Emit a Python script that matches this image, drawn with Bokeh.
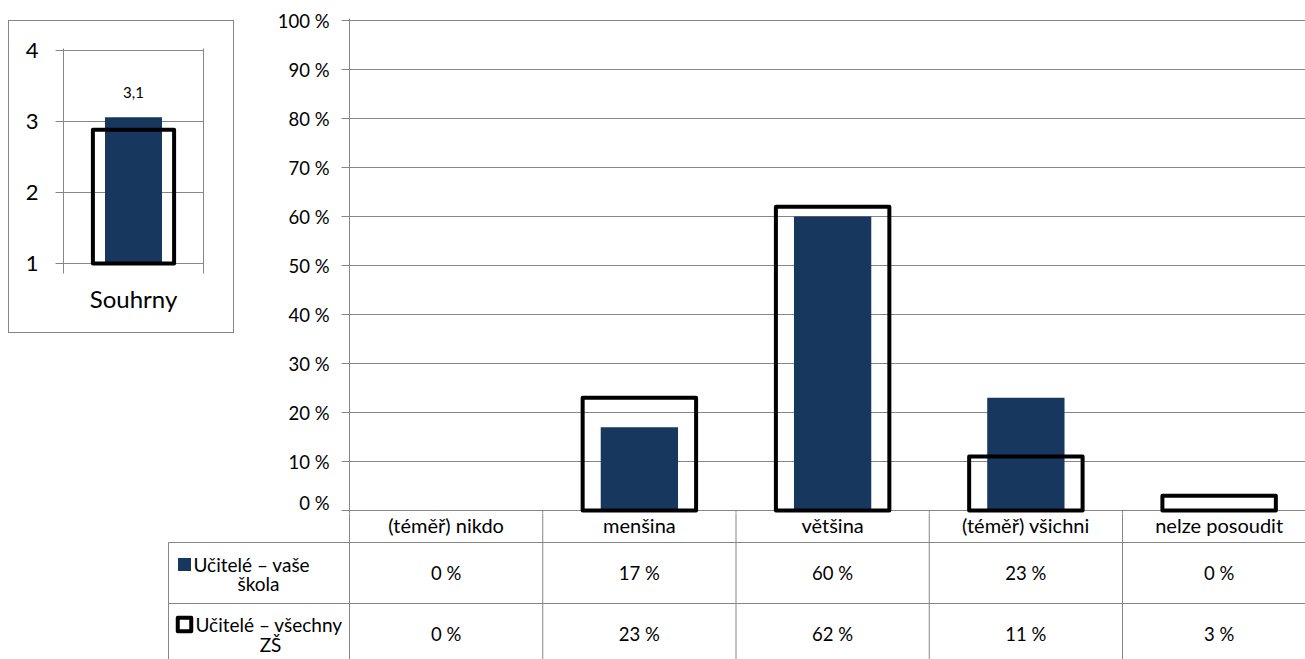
import numpy as np
from bokeh.plotting import figure
from bokeh.models import Range1d, FixedTicker, LinearAxis, Spacer, ColumnDataSource
from bokeh.layouts import row, column
from bokeh.core.properties import value
from bokeh.embed import file_html
from bokeh.resources import INLINE

# ---------------- data ----------------
categories = ["(téměř) nikdo", "menšina", "většina", "(téměř) všichni", "nelze posoudit"]
school_values = [0, 17, 60, 23, 0]          # Učitelé – vaše škola (%)
all_values = [0, 23, 62, 11, 3]             # Učitelé – všechny ZŠ (%)
series_names = ["Učitelé – vaše škola", "Učitelé – všechny ZŠ"]
y_ticks = [0, 10, 20, 30, 40, 50, 60, 70, 80, 90, 100]
y_tick_labels = ["0 %", "10 %", "20 %", "30 %", "40 %", "50 %", "60 %", "70 %", "80 %", "90 %", "100 %"]

summary_category = ["Souhrny"]
summary_school = [3.06]
summary_all = [2.885]
summary_ticks = [1, 2, 3, 4]

# ---------------- style ----------------
NAVY = "#17375E"
GRID = "#868686"
FONT = "Lato"
CW = 193.25          # px per category
PX = 4.9             # px per percent
PAGE_W, PAGE_H = 1305, 659
MARGIN = 8

# ---------------- main chart ----------------
main_w, main_h = 1035, 505
ml, mt = 79, 10
frame_w = main_w - ml
x_end = frame_w / CW
y_start = -3 / PX
y_end = 100 + 2 / PX

p = figure(width=main_w, height=main_h, x_range=Range1d(0, x_end), y_range=Range1d(y_start, y_end),
           output_backend="svg", toolbar_location=None, x_axis_location=None,
           min_border_left=ml, min_border_right=0, min_border_top=mt, min_border_bottom=0)
p.outline_line_color = None
ax = p.yaxis[0]
ax.ticker = FixedTicker(ticks=y_ticks)
ax.major_label_overrides = {t: lab for t, lab in zip(y_ticks, y_tick_labels)}
ax.axis_line_color = GRID
ax.major_tick_line_color = GRID
ax.major_tick_out = 8
ax.major_tick_in = 0
ax.minor_tick_line_color = None
ax.major_label_standoff = 12
ax.major_label_text_font = FONT
ax.major_label_text_font_size = "18.5px"
ax.major_label_text_color = "black"
p.ygrid.ticker = FixedTicker(ticks=y_ticks)
p.ygrid.grid_line_color = GRID
p.xgrid.grid_line_color = None

xc = np.arange(len(categories)) + 0.5
src = ColumnDataSource(dict(x=xc, school=school_values, all=all_values,
                            la=[0 if v == 0 else 1 for v in all_values]))
p.vbar(x="x", top="school", bottom=0, width=0.4, source=src, fill_color=NAVY, line_color=None)
p.vbar(x="x", top="all", bottom=0, width=0.587, source=src, fill_color=None,
       line_color="black", line_width=4, line_alpha="la", line_join="round")
bounds = np.arange(1, len(categories))
p.segment(x0=bounds, y0=0, x1=bounds, y1=y_start, line_color=GRID, line_width=1)

# ---------------- summary panel ----------------
BOX_W, BOX_H = 226, 313          # outer size including the 1px border
LW, LH = BOX_W - 2, BOX_H - 2
unit = 71.0
lf = figure(width=LW, height=LH, x_range=Range1d(0, 1),
            y_range=Range1d(1 - 10 / unit, 4 + 2 / unit),
            output_backend="svg", toolbar_location=None,
            min_border_left=54, min_border_right=30, min_border_top=27, min_border_bottom=59)
lf.outline_line_color = None
lax = lf.yaxis[0]
lax.ticker = FixedTicker(ticks=summary_ticks)
lax.axis_line_color = GRID
lax.major_tick_line_color = GRID
lax.major_tick_out = 8
lax.major_tick_in = 0
lax.minor_tick_line_color = None
lax.major_label_standoff = 17
lax.major_label_text_font = FONT
lax.major_label_text_font_size = "22px"
lax.major_label_text_color = "black"
bax = lf.xaxis[0]
bax.ticker = FixedTicker(ticks=[0.5])
bax.major_label_overrides = {0.5: summary_category[0]}
bax.axis_line_color = None
bax.major_tick_line_color = None
bax.minor_tick_line_color = None
bax.major_label_standoff = 4
bax.major_label_text_font = FONT
bax.major_label_text_font_size = "24px"
bax.major_label_text_color = "black"
rax = LinearAxis(ticker=FixedTicker(ticks=[]), axis_line_color=GRID, major_tick_line_color=None,
                 minor_tick_line_color=None, major_label_text_font_size="0px")
lf.add_layout(rax, "right")
lf.ygrid.ticker = FixedTicker(ticks=summary_ticks)
lf.ygrid.grid_line_color = GRID
lf.xgrid.grid_line_color = None

ssrc = ColumnDataSource(dict(x=[0.5], school=summary_school, all=summary_all,
                             lab=[f"{v:.1f}".replace(".", ",") for v in summary_school]))
lf.vbar(x="x", top="school", bottom=1, width=0.407, source=ssrc, fill_color=NAVY, line_color=None)
lf.vbar(x="x", top="all", bottom=1, width=0.58, source=ssrc, fill_color=None,
        line_color="black", line_width=4, line_join="round")
lf.text(x="x", y="school", text="lab", source=ssrc, y_offset=-25, text_align="center",
        text_baseline="alphabetic", text_font=value(FONT), text_font_size="15px", text_color="black")

# 1px border around the summary panel, made of thin coloured spacers
def bar_spacer(w, h):
    return Spacer(width=w, height=h, styles={"background-color": GRID})

boxed = column(bar_spacer(BOX_W, 1),
               row(bar_spacer(1, LH), lf, bar_spacer(1, LH)),
               bar_spacer(BOX_W, 1))

# ---------------- data table ----------------
TW = PAGE_W - MARGIN
TH = PAGE_H - MARGIN - main_h
T_TOP = 3                      # table coordinates: pixels below the 0 % line
T_BOT = T_TOP + TH
HDR_H, ROW_H = 32, 61
LEG_W = 181
def px2x(d):   # horizontal pixel distance from the plot's left edge -> category units
    return d / CW

left_of_axis = (BOX_W + (TW - BOX_W - main_w)) + ml     # pixels from table left to the value axis
t = figure(width=TW, height=TH, x_range=Range1d(px2x(-left_of_axis), px2x(TW - left_of_axis)),
           y_range=Range1d(T_BOT, T_TOP),
           output_backend="svg", toolbar_location=None, x_axis_location=None, y_axis_location=None,
           min_border=0, min_border_left=0, min_border_right=0, min_border_top=0, min_border_bottom=0)
t.outline_line_color = None
t.xgrid.grid_line_color = None
t.ygrid.grid_line_color = None

x_leg = px2x(-LEG_W)
x_right = px2x(TW - left_of_axis)
row_tops = [HDR_H, HDR_H + ROW_H]
t.segment(x0=[x_leg] * 2, y0=row_tops, x1=[x_right] * 2, y1=row_tops, line_color=GRID, line_width=1)
t.segment(x0=[x_leg], y0=[HDR_H], x1=[x_leg], y1=[T_BOT], line_color=GRID, line_width=1)
vb = np.arange(0, len(categories))
t.segment(x0=vb, y0=0, x1=vb, y1=T_BOT, line_color=GRID, line_width=1)

txt = dict(text_font=value(FONT), text_color="black", text_align="center", text_baseline="middle")
t.text(x=xc, y=[HDR_H / 2 - 2] * len(categories), text=categories, text_font_size="20px", **txt)
r1 = HDR_H + ROW_H / 2
r2 = HDR_H + ROW_H + ROW_H / 2
t.text(x=xc, y=[r1] * len(categories), text=[f"{v} %" for v in school_values],
       text_font_size="18.5px", **txt)
t.text(x=xc, y=[r2] * len(categories), text=[f"{v} %" for v in all_values],
       text_font_size="18.5px", **txt)

# legend cells
l1 = [s.rsplit(" ", 1) for s in series_names]
t.rect(x=[px2x(-LEG_W + 16)], y=[HDR_H + 22], width=13, height=13, width_units="screen",
       height_units="screen", fill_color=NAVY, line_color=None)
t.rect(x=[px2x(-LEG_W + 16)], y=[HDR_H + ROW_H + 21], width=13.5, height=13.5, width_units="screen",
       height_units="screen", fill_color="white", line_color="black", line_width=4, line_join="round")
ltxt = dict(text_font=value(FONT), text_font_size="19px", text_color="black", text_baseline="middle")
t.text(x=[px2x(-LEG_W + 25), px2x(-LEG_W + 27)], y=[HDR_H + 22, HDR_H + ROW_H + 21],
       text=[l1[0][0], l1[1][0]], text_align="left", **ltxt)
t.text(x=[px2x(-LEG_W + 90), px2x(-LEG_W + 102)], y=[HDR_H + 41, HDR_H + ROW_H + 41],
       text=[l1[0][1], l1[1][1]], text_align="center", **ltxt)

# ---------------- layout ----------------
left_col = column(Spacer(width=BOX_W, height=12), boxed, Spacer(width=BOX_W, height=main_h - 12 - BOX_H))
top = row(left_col, Spacer(width=TW - BOX_W - main_w, height=main_h), p)
body = column(top, t)
layout = column(Spacer(width=PAGE_W, height=MARGIN), row(Spacer(width=MARGIN, height=TH + main_h), body))

open("out.html", "w").write(file_html(layout, INLINE))
